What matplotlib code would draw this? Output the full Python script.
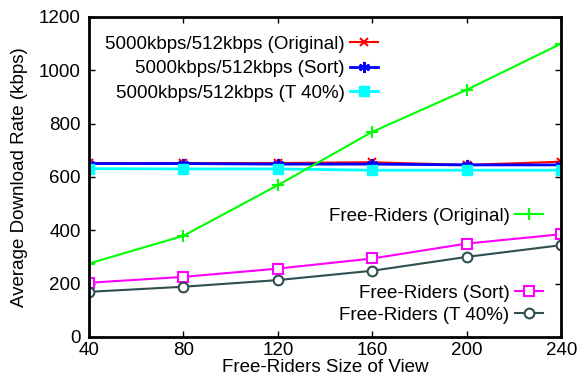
import matplotlib
matplotlib.use("Agg")
import matplotlib.pyplot as plt

plt.rcParams["font.family"] = ["Liberation Sans", "DejaVu Sans"]
plt.rcParams["font.size"] = 13.5

view = [40, 80, 120, 160, 200, 240]

orig_5000 = [652, 652, 652, 655, 645, 657]
sort_5000 = [650, 650, 648, 648, 645, 645]
t40_5000 = [631, 630, 630, 625, 625, 625]

fr_orig = [275, 379, 569, 769, 927, 1100]
fr_sort = [203, 225, 256, 294, 350, 385]
fr_t40 = [169, 188, 213, 248, 300, 344]

fig = plt.figure(figsize=(5.81, 3.85), dpi=100)
ax = fig.add_axes([0.153, 0.125, 0.813, 0.831])

asterisk = (6, 2, 0)
l1, = ax.plot(view, orig_5000, color="#ff0000", marker="x", ms=6, mew=1.5, lw=1.5,
              label="5000kbps/512kbps (Original)")
l2, = ax.plot(view, sort_5000, color="#0000ff", marker=asterisk, ms=8, mew=1.5, lw=2,
              label="5000kbps/512kbps (Sort)")
l3, = ax.plot(view, t40_5000, color="#00ffff", marker="s", ms=7, lw=2,
              label="5000kbps/512kbps (T 40%)")
l4, = ax.plot(view, fr_orig, color="#00ff00", marker="+", ms=9, mew=1.5, lw=1.5,
              label="Free-Riders (Original)")
l5, = ax.plot(view, fr_sort, color="#ff00ff", marker="s", ms=7, mfc="white", mew=1.5, lw=1.5,
              label="Free-Riders (Sort)")
l6, = ax.plot(view, fr_t40, color="#2f4f4f", marker="o", ms=7, mfc="white", mew=1.5, lw=1.5,
              label="Free-Riders (T 40%)")

ax.set_xlim(40, 240)
ax.set_ylim(0, 1200)
ax.set_xticks(view)
ax.set_yticks(range(0, 1201, 200))
ax.tick_params(direction="in", top=True, right=True, length=4, width=1)
ax.tick_params(axis="y", pad=6)
ax.tick_params(axis="x", pad=4)
for s in ax.spines.values():
    s.set_linewidth(2)

ax.set_xlabel("Free-Riders Size of View", labelpad=0)
ax.set_ylabel("Average Download Rate (kbps)", labelpad=8)

common = dict(frameon=False, markerfirst=False, borderpad=0, handlelength=1.5,
              handletextpad=0.3, borderaxespad=0)
leg1 = fig.legend(handles=[l1, l2, l3], loc="upper right",
                  bbox_to_anchor=(0.651, 0.907), labelspacing=0.39, **common)
leg2 = fig.legend(handles=[l4], loc="upper right",
                  bbox_to_anchor=(0.935, 0.461), **common)
leg3 = fig.legend(handles=[l5, l6], loc="upper right",
                  bbox_to_anchor=(0.935, 0.261), labelspacing=0.28, **common)

fig.savefig("out.png", dpi=100)
